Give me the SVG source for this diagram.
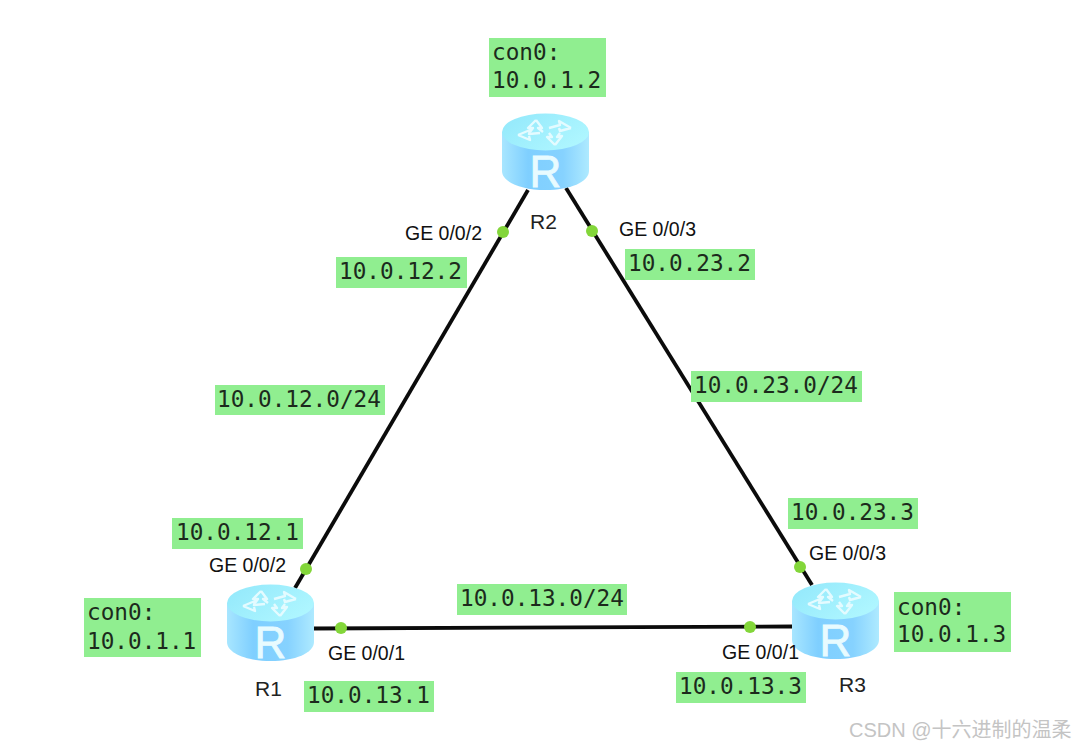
<svg xmlns="http://www.w3.org/2000/svg" width="1076" height="748" viewBox="0 0 1076 748">
<style>
.l{fill:#90ee90}
.m{font-family:"DejaVu Sans Mono","Liberation Mono",monospace;font-size:22.700px;fill:#1c2a1c}
.s{font-family:"Liberation Sans",Arial,sans-serif;font-size:19.500px;fill:#111}
.n{font-family:"Liberation Sans",Arial,sans-serif;font-size:21px;fill:#222}
.c{stroke:#0b0b0b;stroke-width:3.800;fill:none}
.d{fill:#83d63a}
.a{fill:none;stroke:#e4fbff;stroke-width:2.400;stroke-linejoin:round}
</style>
<defs>
<linearGradient id="b" x1="0" x2="1" y1="0" y2="0">
<stop offset="0" stop-color="#a8e6ff"/><stop offset=".3" stop-color="#7fcfff"/><stop offset=".7" stop-color="#86d2ff"/><stop offset="1" stop-color="#aeeaff"/>
</linearGradient>
<linearGradient id="t" x1="0" x2="1" y1="0" y2="0.6">
<stop offset="0" stop-color="#92e8fb"/><stop offset="1" stop-color="#aef6ff"/>
</linearGradient>
<g id="router">
<path d="M0 19V58C0 69 19 77 43.500 77S87 69 87 58V19Z" fill="url(#b)"/>
<ellipse cx="43.500" cy="19" rx="43.500" ry="18.500" fill="url(#t)"/>
<path class="a" d="M34 7L26 15L31 15L28 19M34 7L40 15L36 15L41 19"/>
<path class="a" d="M69 15L57 8L58 12L47 15M69 15L58 18L57 15"/>
<path class="a" d="M16 22L28 17L27 21L38 20M16 22L28 27L27 23"/>
<path class="a" d="M53 32L60 23L55 24L58 20M53 32L45 24L50 24L47 20"/>
<text x="43.500" y="74" text-anchor="middle" font-family="Liberation Sans,sans-serif" font-size="44" stroke="#e8fbff" stroke-width="0.800" fill="#e8fbff">R</text>
</g>
</defs>
<rect width="1076" height="748" fill="#fff"/>
<g id="connectors">
<path class="c" d="M528 190L295 588"/>
<path class="c" d="M566 188L812 585"/>
<path class="c" d="M313 628.500L793 626.500"/>
<circle class="d" cx="503" cy="232" r="6"/>
<circle class="d" cx="592" cy="231" r="6"/>
<circle class="d" cx="306" cy="569" r="6"/>
<circle class="d" cx="800" cy="567" r="6"/>
<circle class="d" cx="341" cy="628" r="6"/>
<circle class="d" cx="750" cy="627" r="6"/>
</g>
<g id="R2"><use href="#router" x="502" y="113"/><text class="n" x="530" y="229">R2</text></g>
<g id="R1"><use href="#router" x="227" y="584"/><text class="n" x="255" y="696">R1</text></g>
<g id="R3"><use href="#router" x="792" y="582"/><text class="n" x="839" y="692">R3</text></g>
<g id="ports">
<text class="s" x="405" y="240" textLength="77" lengthAdjust="spacingAndGlyphs">GE 0/0/2</text>
<text class="s" x="619" y="236" textLength="77" lengthAdjust="spacingAndGlyphs">GE 0/0/3</text>
<text class="s" x="209" y="572" textLength="77" lengthAdjust="spacingAndGlyphs">GE 0/0/2</text>
<text class="s" x="809" y="560" textLength="77" lengthAdjust="spacingAndGlyphs">GE 0/0/3</text>
<text class="s" x="328" y="660" textLength="77" lengthAdjust="spacingAndGlyphs">GE 0/0/1</text>
<text class="s" x="722" y="659" textLength="77" lengthAdjust="spacingAndGlyphs">GE 0/0/1</text>
</g>
<g id="labels">
<rect class="l" x="489" y="38" width="117" height="59"/><text class="m" x="492" y="60">con0:</text><text class="m" x="492" y="88">10.0.1.2</text>
<rect class="l" x="84" y="598" width="117" height="59"/><text class="m" x="87" y="620">con0:</text><text class="m" x="87" y="649">10.0.1.1</text>
<rect class="l" x="894" y="592" width="117" height="60"/><text class="m" x="897" y="615">con0:</text><text class="m" x="897" y="642">10.0.1.3</text>
<rect class="l" x="336" y="257" width="131" height="31"/><text class="m" x="339" y="279">10.0.12.2</text>
<rect class="l" x="625" y="249" width="130" height="31"/><text class="m" x="628" y="271">10.0.23.2</text>
<rect class="l" x="215" y="385" width="170" height="30"/><text class="m" x="217" y="407">10.0.12.0/24</text>
<rect class="l" x="691" y="371" width="171" height="31"/><text class="m" x="694" y="393">10.0.23.0/24</text>
<rect class="l" x="172" y="518" width="131" height="31"/><text class="m" x="176" y="540">10.0.12.1</text>
<rect class="l" x="788" y="498" width="130" height="31"/><text class="m" x="791" y="520">10.0.23.3</text>
<rect class="l" x="457" y="584" width="170" height="31"/><text class="m" x="460" y="606">10.0.13.0/24</text>
<rect class="l" x="304" y="681" width="130" height="31"/><text class="m" x="307" y="703">10.0.13.1</text>
<rect class="l" x="676" y="672" width="130" height="31"/><text class="m" x="679" y="694">10.0.13.3</text>
</g>
<text x="849" y="737" font-family="Liberation Sans,'Noto Sans CJK SC',sans-serif" font-size="20" fill="#c4c4c4">CSDN @十六进制的温柔</text>
</svg>
